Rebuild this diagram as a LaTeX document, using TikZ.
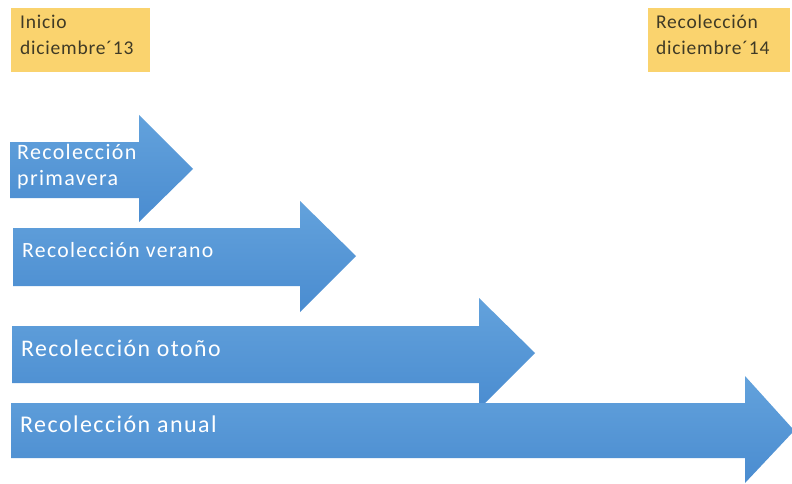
\documentclass[tikz,border=0pt]{standalone}
\usepackage{fontspec}
\setmainfont{Carlito}
\newfontfamily\arrfont[LetterSpace=6]{Carlito}
\newfontfamily\datefont[LetterSpace=4]{Carlito}
\begin{document}
\begin{tikzpicture}[x=1pt,y=-1pt,
  datetext/.style={text=dateink, font=\datefont\fontsize{19.5}{26}\selectfont, align=left, anchor=north west, inner sep=0pt},
  arrowshape/.style={top color=arrtop, bottom color=arrbot, draw=none},
  arrowtext/.style={text=white, font=\arrfont\fontsize{#1}{26}\selectfont, align=left, anchor=west, inner sep=0pt},
  arrowtext/.default=23.5]
\definecolor{datey}{HTML}{FAD36E}
\definecolor{dateink}{HTML}{3F3A26}
\definecolor{arrtop}{HTML}{63A2DC}
\definecolor{arrbot}{HTML}{4A8CD0}
\useasboundingbox (0,0) rectangle (792,484);
\fill[white] (0,0) rectangle (792,484);
% date boxes
\fill[datey] (11,8) rectangle (150,72);
\node[datetext] (inicio) at (20,15) {Inicio\\diciembre\textasciiacute13};
\fill[datey] (648,8) rectangle (790,72);
\node[datetext] (fin) at (656,15) {Recolección\\diciembre\textasciiacute14};
% arrows
\shade[arrowshape] (10,142) -- (139,142) -- (139,115) -- (193,169) -- (139,222) -- (139,198) -- (10,198) -- cycle;
\node[arrowtext=22] (prim) at (17,167) {Recolección\\primavera};
\shade[arrowshape] (13,228) -- (300,228) -- (300,201) -- (356,256) -- (300,312) -- (300,286) -- (13,286) -- cycle;
\node[arrowtext=21.7] (ver) at (22,250) {Recolección verano};
\shade[arrowshape] (12,326) -- (479,326) -- (479,298) -- (535,353) -- (479,409) -- (479,383) -- (12,383) -- cycle;
\node[arrowtext=23.8] (oto) at (21,348) {Recolección otoño};
\shade[arrowshape] (11,403) -- (745,403) -- (745,376) -- (792,428) -- (792,433) -- (745,483) -- (745,458) -- (11,458) -- cycle;
\node[arrowtext=24] (anu) at (20,424) {Recolección anual};
\end{tikzpicture}
\end{document}
